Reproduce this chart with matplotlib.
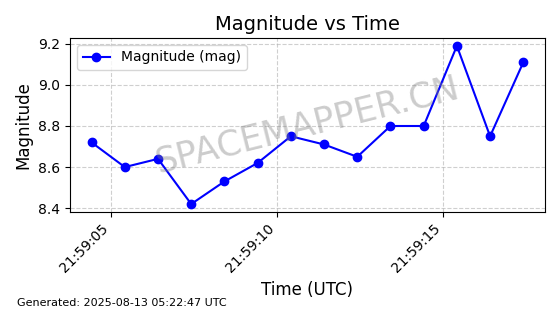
import datetime as dt

import matplotlib
matplotlib.use('Agg')
import matplotlib.dates as mdates
import matplotlib.pyplot as plt

# observation times (seconds past 21:59:00 UTC) and magnitudes
SECONDS = [4.43, 5.43, 6.43, 7.43, 8.43, 9.43, 10.43, 11.43, 12.43, 13.43, 14.43, 15.43, 16.43, 17.43]
MAGNITUDE = [8.72, 8.60, 8.64, 8.42, 8.53, 8.62, 8.75, 8.71, 8.65, 8.80, 8.80, 9.19, 8.75, 9.11]
GENERATED = 'Generated: 2025-08-13 05:22:47 UTC'

base = dt.datetime(2025, 8, 12, 21, 59, 0)
times = [base + dt.timedelta(seconds=s) for s in SECONDS]

fig = plt.figure(figsize=(5.6, 3.14), dpi=100)
ax = fig.add_axes([0.125, 0.325, 0.848, 0.554])

ax.plot(times, MAGNITUDE, color='blue', marker='o', markersize=6, linewidth=1.5,
        label='Magnitude (mag)')
ax.set_title('Magnitude vs Time', fontsize=14)
ax.set_xlabel('Time (UTC)', fontsize=12)
ax.set_ylabel('Magnitude', fontsize=12)
ax.grid(True, linestyle='--', alpha=0.6)
ax.legend(loc='upper left')

ax.xaxis.set_major_locator(mdates.SecondLocator(bysecond=[5, 10, 15]))
ax.xaxis.set_major_formatter(mdates.DateFormatter('%H:%M:%S'))
plt.setp(ax.get_xticklabels(), rotation=45, ha='right')

ax.text(0.5, 0.5, 'SPACEMAPPER.CN', transform=ax.transAxes, fontsize=25,
        color='gray', alpha=0.4, rotation=14, ha='center', va='center')

fig.text(0.03, 0.025, GENERATED, fontsize=8)

fig.savefig('out.png', dpi=100)
